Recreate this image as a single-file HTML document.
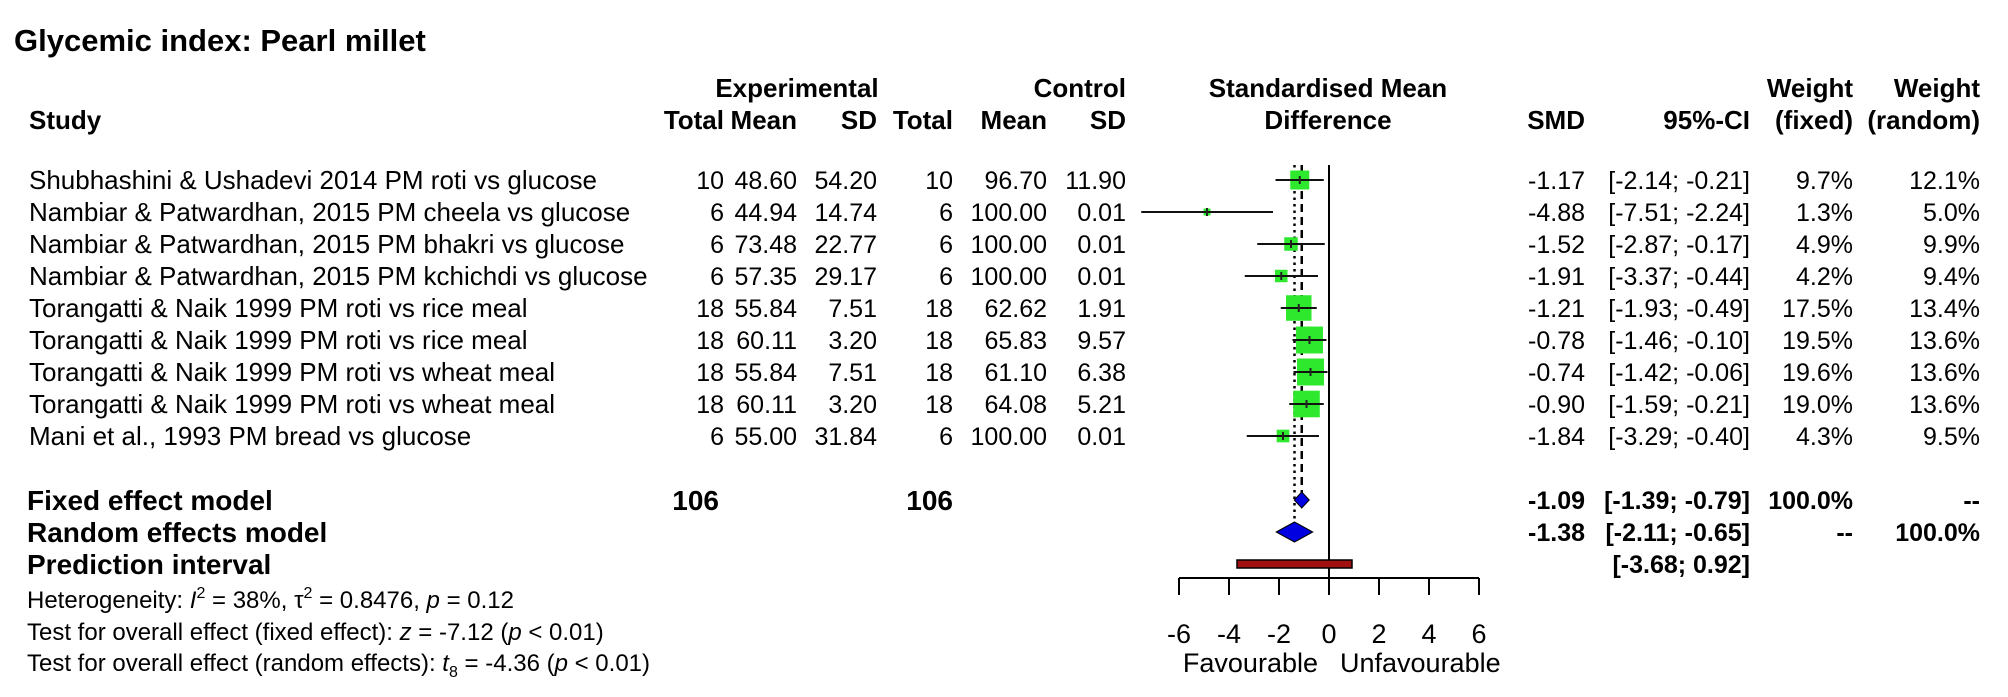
<!DOCTYPE html>
<html><head><meta charset="utf-8"><style>
html,body{margin:0;padding:0;background:#fff;}
svg{display:block;font-family:"Liberation Sans",Arial,sans-serif;}
</style></head><body>
<svg id="chart" width="2008" height="697" viewBox="0 0 2008 697" xmlns="http://www.w3.org/2000/svg">
<rect width="2008" height="697" fill="#fff"/>
<text x="14" y="51" font-size="31" font-weight="bold">Glycemic index: Pearl millet</text>
<g font-size="26" font-weight="bold">
<text x="29" y="129">Study</text>
<text x="797" y="97" text-anchor="middle">Experimental</text>
<text x="724" y="129" text-anchor="end">Total</text>
<text x="797" y="129" text-anchor="end">Mean</text>
<text x="877" y="129" text-anchor="end">SD</text>
<text x="1126" y="97" text-anchor="end">Control</text>
<text x="953" y="129" text-anchor="end">Total</text>
<text x="1047" y="129" text-anchor="end">Mean</text>
<text x="1126" y="129" text-anchor="end">SD</text>
<text x="1328" y="97" text-anchor="middle">Standardised Mean</text>
<text x="1328" y="129" text-anchor="middle">Difference</text>
<text x="1585" y="129" text-anchor="end">SMD</text>
<text x="1750" y="129" text-anchor="end">95%-CI</text>
<text x="1853" y="97" text-anchor="end">Weight</text>
<text x="1853" y="129" text-anchor="end">(fixed)</text>
<text x="1980" y="97" text-anchor="end">Weight</text>
<text x="1980" y="129" text-anchor="end">(random)</text>
</g>
<g id="rows"></g>
<g id="plot"></g>
<g font-size="28" font-weight="bold">
<text x="27" y="510">Fixed effect model</text>
<text x="719" y="510" text-anchor="end">106</text>
<text x="953" y="510" text-anchor="end">106</text>
<text x="27" y="542">Random effects model</text>
<text x="27" y="574">Prediction interval</text>
</g>
<g font-size="24">
<text x="27" y="608">Heterogeneity: <tspan font-style="italic">I</tspan><tspan font-size="16" dy="-10">2</tspan><tspan dy="10"> = 38%, τ</tspan><tspan font-size="16" dy="-10">2</tspan><tspan dy="10"> = 0.8476, </tspan><tspan font-style="italic">p</tspan> = 0.12</text>
<text x="27" y="640">Test for overall effect (fixed effect): <tspan font-style="italic">z</tspan> = -7.12 (<tspan font-style="italic">p</tspan> &lt; 0.01)</text>
<text x="27" y="671">Test for overall effect (random effects): <tspan font-style="italic">t</tspan><tspan font-size="16" dy="6">8</tspan><tspan dy="-6"> = -4.36 (</tspan><tspan font-style="italic">p</tspan> &lt; 0.01)</text>
</g>
</svg>
<script>
const studies=["Shubhashini & Ushadevi 2014 PM roti vs glucose","Nambiar & Patwardhan, 2015 PM cheela vs glucose","Nambiar & Patwardhan, 2015 PM bhakri vs glucose","Nambiar & Patwardhan, 2015 PM kchichdi vs glucose","Torangatti & Naik 1999 PM roti vs rice meal","Torangatti & Naik 1999 PM roti vs rice meal","Torangatti & Naik 1999 PM roti vs wheat meal","Torangatti & Naik 1999 PM roti vs wheat meal","Mani et al., 1993 PM bread vs glucose"];
const expTotal=[10,6,6,6,18,18,18,18,6];
const expMean=["48.60","44.94","73.48","57.35","55.84","60.11","55.84","60.11","55.00"];
const expSD=["54.20","14.74","22.77","29.17","7.51","3.20","7.51","3.20","31.84"];
const ctrlTotal=[10,6,6,6,18,18,18,18,6];
const ctrlMean=["96.70","100.00","100.00","100.00","62.62","65.83","61.10","64.08","100.00"];
const ctrlSD=["11.90","0.01","0.01","0.01","1.91","9.57","6.38","5.21","0.01"];
const smd=[-1.17,-4.88,-1.52,-1.91,-1.21,-0.78,-0.74,-0.90,-1.84];
const lower=[-2.14,-7.51,-2.87,-3.37,-1.93,-1.46,-1.42,-1.59,-3.29];
const upper=[-0.21,-2.24,-0.17,-0.44,-0.49,-0.10,-0.06,-0.21,-0.40];
const wFixed=[9.7,1.3,4.9,4.2,17.5,19.5,19.6,19.0,4.3];
const wRandom=[12.1,5.0,9.9,9.4,13.4,13.6,13.6,13.6,9.5];
const fixedEst=[-1.09,-1.39,-0.79];
const randomEst=[-1.38,-2.11,-0.65];
const predInt=[-3.68,0.92];
const ticks=[-6,-4,-2,0,2,4,6];

const NS="http://www.w3.org/2000/svg";
const X0=1329,PX=25,ROW0=180,ROWH=32;
const xs=v=>X0+v*PX;
const ys=i=>ROW0+i*ROWH;
function mk(tag,attrs,parent,txt){const e=document.createElementNS(NS,tag);for(const k in attrs)e.setAttribute(k,attrs[k]);if(txt!==undefined)e.textContent=txt;parent.appendChild(e);return e;}
const rows=document.getElementById('rows');
const plot=document.getElementById('plot');
const f=v=>v.toFixed(2);
studies.forEach((s,i)=>{
  const y=ys(i)+9;
  const g=mk('g',{'font-size':25},rows);
  
  
  const lab=mk('text',{x:29,y:y,'font-size':26},g,s);
  
  
  const cols=[[724,expTotal[i]],[797,expMean[i]],[877,expSD[i]],[953,ctrlTotal[i]],[1047,ctrlMean[i]],[1126,ctrlSD[i]],[1585,f(smd[i])],[1750,'['+f(lower[i])+'; '+f(upper[i])+']'],[1853,wFixed[i].toFixed(1)+'%'],[1980,wRandom[i].toFixed(1)+'%']];
  cols.forEach(c=>{const t=mk('text',{x:c[0],y:y,'text-anchor':'end'},g,String(c[1]));
    
    });
});
const sg=mk('g',{'font-size':25,'font-weight':'bold'},rows);


const yF=ys(10)+9,yR=ys(11)+9,yP=ys(12)+9;
[[1585,f(fixedEst[0]),yF],[1750,'['+f(fixedEst[1])+'; '+f(fixedEst[2])+']',yF],[1853,'100.0%',yF],[1980,'--',yF],
 [1585,f(randomEst[0]),yR],[1750,'['+f(randomEst[1])+'; '+f(randomEst[2])+']',yR],[1853,'--',yR],[1980,'100.0%',yR],
 [1750,'['+f(predInt[0])+'; '+(predInt[1]<0?'':' ')+f(predInt[1])+']',yP]].forEach(c=>{
  const t=mk('text',{x:c[0],y:c[2],'text-anchor':'end','xml:space':'preserve'},sg,c[1]);
  
  
});
const zl=mk('line',{x1:xs(0),x2:xs(0),y1:165,y2:578,stroke:'#000','stroke-width':2},plot);


const fl=mk('line',{x1:xs(fixedEst[0]),x2:xs(fixedEst[0]),y1:165,y2:ys(10)-7,stroke:'#000','stroke-width':2.5,'stroke-dasharray':'8,5'},plot);


const rl=mk('line',{x1:xs(randomEst[0]),x2:xs(randomEst[0]),y1:165,y2:ys(11)-8,stroke:'#000','stroke-width':2.5,'stroke-dasharray':'2.5,4'},plot);


studies.forEach((s,i)=>{
  const y=ys(i);
  const side=6.1*Math.sqrt(wFixed[i]);
  const b=mk('rect',{x:xs(smd[i])-side/2,y:y-side/2,width:side,height:side,fill:'#2ee82e'},plot);
  
  
  const l=mk('line',{x1:Math.max(xs(lower[i]),1140),x2:xs(upper[i]),y1:y,y2:y,stroke:'#111','stroke-width':2},plot);
  
  
  const p=mk('line',{x1:xs(smd[i]),x2:xs(smd[i]),y1:y-4,y2:y+4,stroke:'#222','stroke-width':2},plot);
  
  
});
function diamond(est,y,h,name){
  const d=mk('polygon',{points:`${xs(est[1])},${y} ${xs(est[0])},${y-h} ${xs(est[2])},${y} ${xs(est[0])},${y+h}`,fill:'#0000e0',stroke:'#000','stroke-width':1},plot);
  
  
}
diamond(fixedEst,ys(10),8,'fixed-diamond');
diamond(randomEst,ys(11),10,'random-diamond');
const pr=mk('rect',{x:xs(predInt[0]),y:ys(12)-4,width:xs(predInt[1])-xs(predInt[0]),height:8,fill:'#a01010',stroke:'#000','stroke-width':1.5},plot);


const ax=mk('line',{x1:xs(ticks[0]),x2:xs(ticks[ticks.length-1]),y1:578,y2:578,stroke:'#000','stroke-width':2},plot);


ticks.forEach(t=>{
  const tk=mk('line',{x1:xs(t),x2:xs(t),y1:578,y2:595,stroke:'#000','stroke-width':2},plot);
  
  
  const tl=mk('text',{x:xs(t),y:643,'text-anchor':'middle','font-size':27},plot,String(t));
  
  
});
const fav=mk('text',{x:1318,y:672,'text-anchor':'end','font-size':27},plot,'Favourable');


const unf=mk('text',{x:1340,y:672,'text-anchor':'start','font-size':27},plot,'Unfavourable');


</script>
</body></html>
